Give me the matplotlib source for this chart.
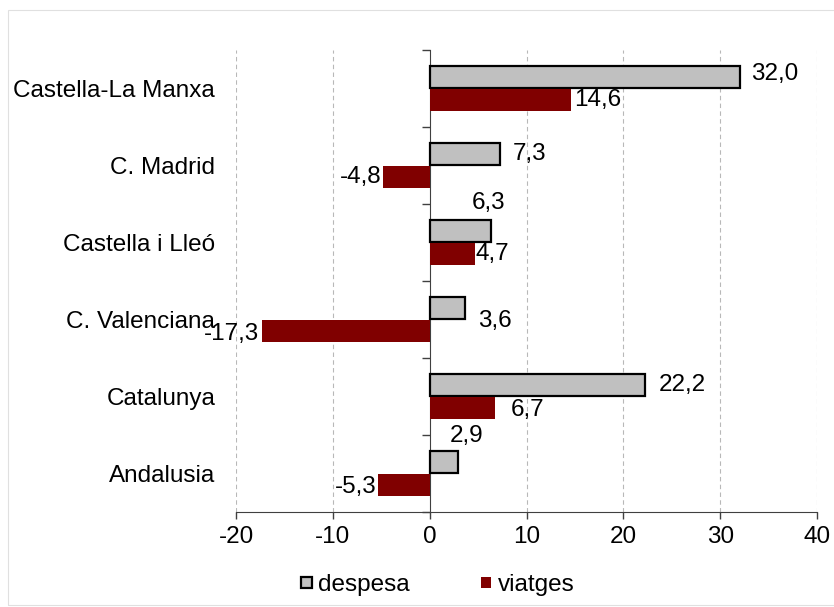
import matplotlib
matplotlib.use("Agg")
import matplotlib.pyplot as plt
from matplotlib.patches import Patch, Rectangle
import numpy as np

plt.rcParams['font.family'] = ['Liberation Sans', 'DejaVu Sans']

categories = ["Castella-La Manxa", "C. Madrid", "Castella i Lleó",
              "C. Valenciana", "Catalunya", "Andalusia"]
despesa = [32.0, 7.3, 6.3, 3.6, 22.2, 2.9]
viatges = [14.6, -4.8, 4.7, -17.3, 6.7, -5.3]
xticks = [-20, -10, 0, 10, 20, 30, 40]

# label nudges in pixels (dx, dy, ha)
despesa_off = [(12, 3, 'left'), (12, 0, 'left'), (-2, 28, 'center'),
               (14, -13, 'left'), (14, 0, 'left'), (9, 26, 'center')]
viatges_off = [(3, 0, 'left'), (-2, 0, 'right'), (0, 0, 'left'),
               (-3, -3, 'right'), (16, -2, 'left'), (-2, -2, 'right')]

FS = 17.5
fig = plt.figure(figsize=(8.34, 6.07), dpi=100)
fig.patches.append(Rectangle((0.009, 0.004), 0.995, 0.98, transform=fig.transFigure,
                             fill=False, edgecolor='#e0e0e0', lw=0.8))
ax = fig.add_axes([0.283, 0.1565, 0.6966, 0.7611])

y = np.arange(len(categories))
h = 0.29
off = 0.146
ax.barh(y - off, despesa, height=h, color='#c0c0c0', edgecolor='black', linewidth=1.6, zorder=3)
ax.barh(y + off, viatges, height=h, color='#800000', edgecolor='none', zorder=3)

def fmt(v):
    return f"{v:.1f}".replace('.', ',')

for i, v in enumerate(despesa):
    dx, dy, ha = despesa_off[i]
    ax.annotate(fmt(v), (v, y[i] - off), xytext=(dx, dy), textcoords='offset pixels',
                ha=ha, va='center', fontsize=FS, zorder=4)
for i, v in enumerate(viatges):
    dx, dy, ha = viatges_off[i]
    ax.annotate(fmt(v), (v, y[i] + off), xytext=(dx, dy), textcoords='offset pixels',
                ha=ha, va='center', fontsize=FS, zorder=4)

ax.set_xlim(-20, 40)
ax.set_ylim(len(categories) - 0.5, -0.5)
ax.set_xticks(xticks)
ax.set_xticklabels([str(t) for t in xticks], fontsize=FS)
ax.tick_params(axis='x', direction='out', length=5, width=1, pad=5, color='#404040')
ax.set_yticks(y)
ax.set_yticklabels(categories, fontsize=FS)
ax.tick_params(axis='y', length=0, pad=15)

for xv in xticks:
    if xv != 0:
        ax.axvline(xv, color='#b8b8b8', lw=0.8, ls=(0, (4, 3)), zorder=1)

for s in ['top', 'right', 'left']:
    ax.spines[s].set_visible(False)
ax.spines['bottom'].set_color('#404040')

sec = ax.secondary_yaxis(1/3)
sec.set_yticks(np.arange(-0.5, len(categories), 1.0))
sec.set_yticklabels([])
sec.tick_params(axis='y', direction='out', length=6, width=1, color='#404040')
sec.spines['left'].set_color('#404040')

handles = [Patch(facecolor='#c0c0c0', edgecolor='black', linewidth=1.6, label='despesa'),
           Patch(facecolor='#800000', edgecolor='none', label='viatges')]
fig.legend(handles=handles, loc='center', bbox_to_anchor=(0.525, 0.036), ncol=2,
           frameon=False, fontsize=FS, handlelength=0.45, handleheight=0.36,
           handletextpad=0.25, columnspacing=2.9)

fig.savefig('out.png', dpi=100)
